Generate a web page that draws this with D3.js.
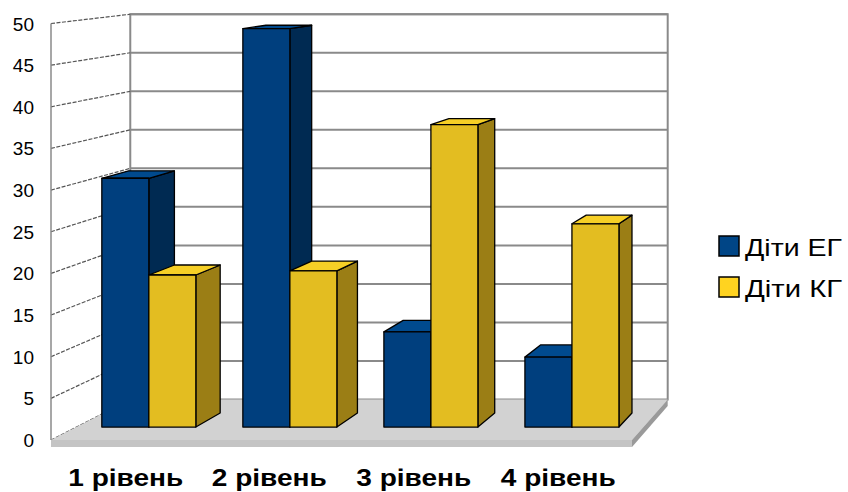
<!DOCTYPE html>
<html>
<head>
<meta charset="utf-8">
<script src="https://cdn.jsdelivr.net/npm/d3@7"></script>
<style>
  html, body { margin: 0; padding: 0; background: #fff; }
  svg { display: block; font-family: Arial, "Liberation Sans", sans-serif; }
</style>
</head>
<body>
<svg id="chart" width="848" height="492"></svg>
<script>
// Categories, series and values
const categories = ["1 рівень", "2 рівень", "3 рівень", "4 рівень"];
const seriesNames = ["Діти ЕГ", "Діти КГ"];
const valuesEG = [30.6, 49.0, 11.7, 8.6];
const valuesKG = [18.7, 19.2, 37.2, 25.0];
const yTicks = [0, 5, 10, 15, 20, 25, 30, 35, 40, 45, 50];

// Face colours per series: front, side, top, legend swatch
const palette = {
  "Діти ЕГ": { front: "#003f7e", side: "#002a52", top: "#004a8e", swatch: "#004586" },
  "Діти КГ": { front: "#e3bd21", side: "#9b7e15", top: "#f6cf26", swatch: "#ffd320" }
};

const svg = d3.select("#chart");

// Perspective: points recede toward a vanishing point as depth z goes 0 -> 1
const VP = { x: 1108, y: -100 };
const shrink = 0.075;
function proj(X, Y, z) {
  const s = 1 - shrink * z;
  return [VP.x + s * (X - VP.x), VP.y + s * (Y - VP.y)];
}
function poly(pts) { return pts.map(p => p.join(",")).join(" "); }

const y = d3.scaleLinear().domain([0, 50]).range([440, 23.5]);
const x0 = d3.scaleBand().domain(categories).range([53, 631])
  .paddingInner(1 / 3).paddingOuter(1 / 6);
const x1 = d3.scaleBand().domain(seriesNames).range([0, x0.bandwidth()]);

const floorX0 = 51, floorX1 = 632;
const floorThick = 7;
const barZ0 = 0.32, barZ1 = 0.667;

// Left wall
const gWalls = svg.append("g");
gWalls.append("polygon")
  .attr("points", poly([proj(floorX0, y(50), 0), proj(floorX0, y(50), 1), proj(floorX0, y(0), 1), proj(floorX0, y(0), 0)]))
  .attr("fill", "#ffffff");

// Back wall
const bwTL = proj(floorX0, y(50), 1), bwBR = proj(floorX1, y(0), 1);
gWalls.append("rect")
  .attr("x", bwTL[0]).attr("y", bwTL[1])
  .attr("width", bwBR[0] - bwTL[0]).attr("height", bwBR[1] - bwTL[1])
  .attr("fill", "#ffffff").attr("stroke", "#8a8a8a").attr("stroke-width", 2);

// Gridlines on the back wall
gWalls.selectAll("line.grid-back").data(yTicks.filter(d => d > 0)).join("line")
  .attr("class", "grid-back")
  .attr("x1", d => proj(floorX0, y(d), 1)[0]).attr("y1", d => proj(floorX0, y(d), 1)[1])
  .attr("x2", d => proj(floorX1, y(d), 1)[0]).attr("y2", d => proj(floorX1, y(d), 1)[1])
  .attr("stroke", "#8a8a8a").attr("stroke-width", 2);

// Gridlines on the left wall
gWalls.selectAll("line.grid-side").data(yTicks).join("line")
  .attr("class", "grid-side")
  .attr("x1", d => proj(floorX0, y(d), 0)[0]).attr("y1", d => proj(floorX0, y(d), 0)[1])
  .attr("x2", d => proj(floorX0, y(d), 1)[0]).attr("y2", d => proj(floorX0, y(d), 1)[1])
  .attr("stroke", "#555").attr("stroke-width", 1.2).attr("stroke-dasharray", "4,1.5");

// Left wall front edge
gWalls.append("line")
  .attr("x1", floorX0).attr("y1", y(50)).attr("x2", floorX0).attr("y2", y(0))
  .attr("stroke", "#8a8a8a").attr("stroke-width", 1.5);

// Floor slab: top, front edge, right side
const gFloor = svg.append("g");
gFloor.append("polygon")
  .attr("points", poly([proj(floorX0, y(0), 0), proj(floorX0, y(0), 1), proj(floorX1, y(0), 1), proj(floorX1, y(0), 0)]))
  .attr("fill", "#d2d2d2");
gFloor.append("polygon")
  .attr("points", poly([proj(floorX0, y(0), 0), proj(floorX1, y(0), 0), proj(floorX1, y(0) + floorThick, 0), proj(floorX0, y(0) + floorThick, 0)]))
  .attr("fill", "#c4c4c4");
gFloor.append("polygon")
  .attr("points", poly([proj(floorX1, y(0), 0), proj(floorX1, y(0), 1), proj(floorX1, y(0) + floorThick, 1), proj(floorX1, y(0) + floorThick, 0)]))
  .attr("fill", "#9a9a9a");

// Bars, drawn left to right so each covers its neighbour's side face
const bars = [];
categories.forEach((c, i) => {
  bars.push({ cat: c, series: "Діти ЕГ", value: valuesEG[i] });
  bars.push({ cat: c, series: "Діти КГ", value: valuesKG[i] });
});

const gBars = svg.append("g");
bars.forEach(b => {
  const xl = x0(b.cat) + x1(b.series);
  const xr = xl + x1.bandwidth();
  const yt = y(b.value), yb = y(0);
  const col = palette[b.series];
  const g = gBars.append("g");
  const stroke = { stroke: "#000", "stroke-width": 1.3, "stroke-linejoin": "round" };
  const side = g.append("polygon")
    .attr("points", poly([proj(xr, yt, barZ0), proj(xr, yt, barZ1), proj(xr, yb, barZ1), proj(xr, yb, barZ0)]))
    .attr("fill", col.side);
  const top = g.append("polygon")
    .attr("points", poly([proj(xl, yt, barZ0), proj(xl, yt, barZ1), proj(xr, yt, barZ1), proj(xr, yt, barZ0)]))
    .attr("fill", col.top);
  const front = g.append("polygon")
    .attr("points", poly([proj(xl, yt, barZ0), proj(xr, yt, barZ0), proj(xr, yb, barZ0), proj(xl, yb, barZ0)]))
    .attr("fill", col.front);
  [side, top, front].forEach(p => Object.entries(stroke).forEach(([k, v]) => p.attr(k, v)));
});

// Value axis labels
svg.append("g").selectAll("text").data(yTicks).join("text")
  .attr("x", 34).attr("y", d => y(d) + 7)
  .attr("text-anchor", "end")
  .attr("font-size", 19).attr("fill", "#000")
  .text(d => d);

// Category labels (wide bold lettering)
svg.append("g").selectAll("text").data(categories).join("text")
  .attr("x", (d, i) => x0(d) + x0.bandwidth() / 2 - 58 + (i === 0 ? 1 : 0))
  .attr("y", 486)
  .attr("font-size", 24).attr("font-weight", "bold").attr("fill", "#000")
  .attr("textLength", 115).attr("lengthAdjust", "spacingAndGlyphs")
  .text(d => d);

// Legend
const legend = svg.append("g");
seriesNames.forEach((s, i) => {
  const ly = 236 + i * 41;
  legend.append("rect")
    .attr("x", 719).attr("y", ly).attr("width", 20).attr("height", 20)
    .attr("fill", palette[s].swatch).attr("stroke", "#000").attr("stroke-width", 1.5);
  legend.append("text")
    .attr("x", 745).attr("y", ly + 20)
    .attr("font-size", 23).attr("fill", "#000")
    .attr("textLength", 97).attr("lengthAdjust", "spacingAndGlyphs")
    .text(s);
});
</script>
</body>
</html>
